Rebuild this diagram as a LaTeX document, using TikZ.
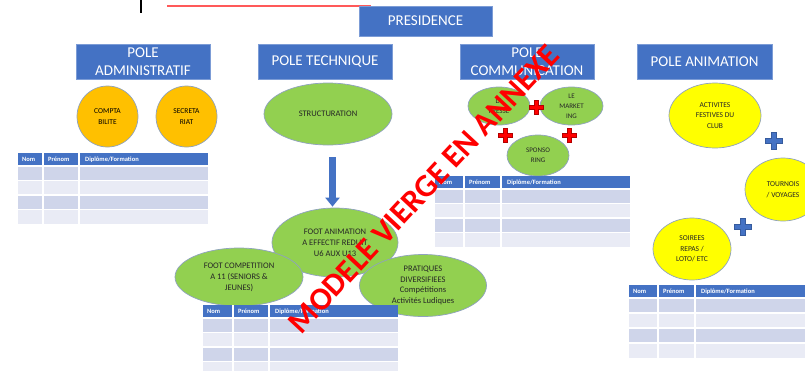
\documentclass[tikz,border=0pt]{standalone}
\usepackage{fontspec}
\setmainfont{Carlito}
\usetikzlibrary{shapes.geometric,arrows.meta}
\definecolor{bleu}{HTML}{4472C4}
\definecolor{vert}{HTML}{92D050}
\definecolor{orange}{HTML}{FFC000}
\definecolor{jaune}{HTML}{FFFF00}
\definecolor{lignea}{HTML}{CFD5EA}
\definecolor{ligneb}{HTML}{E9EBF5}
\definecolor{bord}{HTML}{8FA2BE}
\tikzset{
  pole/.style={fill=bleu, draw=bleu!70!white, text=white, align=center, inner sep=0,
    minimum width=134, minimum height=35, font=\fontsize{15}{17.5}\selectfont},
  bulle/.style={ellipse, draw=bord, line width=0.7, align=center, inner sep=0, text=black!85},
  rond/.style={circle, fill=orange, draw=bord, line width=0.7, align=center, inner sep=0,
    minimum size=61, font=\fontsize{7.5}{11}\selectfont},
  titrecol/.style={anchor=west, text=white, inner sep=0, font=\bfseries\fontsize{6.5}{7}\selectfont},
  sep/.style={white, line width=1.2},
  fleche/.style={bleu, line width=7, -{Triangle[width=14pt,length=9pt]}},
  croix/.pic={\path[pic actions] (-2,-7) -- (2,-7) -- (2,-2) -- (7,-2) -- (7,2) -- (2,2)
    -- (2,7) -- (-2,7) -- (-2,2) -- (-7,2) -- (-7,-2) -- (-2,-2) -- cycle;},
}
% tableau vierge : nom, gauche, haut, col1, col2, droite, hauteur de ligne
\newcommand{\grille}[7]{%
  \fill[bleu] (#2,#3) rectangle (#6,#3+13);
  \foreach \i in {0,2} \fill[lignea] (#2,#3+13+\i*#7) rectangle (#6,#3+13+\i*#7+#7);
  \foreach \i in {1,3} \fill[ligneb] (#2,#3+13+\i*#7) rectangle (#6,#3+13+\i*#7+#7);
  \foreach \i in {0,...,3} \draw[sep] (#2,#3+13+\i*#7) -- (#6,#3+13+\i*#7);
  \draw[sep] (#4,#3) -- (#4,#3+13+4*#7);
  \draw[sep] (#5,#3) -- (#5,#3+13+4*#7);
  \node[titrecol] (#1-nom) at (#2+4,#3+6.5) {Nom};
  \node[titrecol] (#1-prenom) at (#4+5,#3+6.5) {Prénom};
  \node[titrecol] (#1-diplome) at (#5+6,#3+6.5) {Diplôme/Formation};
}

\begin{document}
\begin{tikzpicture}[x=1pt, y=-1pt]
  \useasboundingbox (0,0) rectangle (805,370);
  \clip (0,0) rectangle (805,370);

  % restes en haut de page
  \draw[black, line width=2.2] (141,0) -- (141,13);
  \draw[red!65, line width=1.1] (167,6) -- (371,6);

  % poles
  \node[pole, minimum width=133, minimum height=30] (presidence) at (425.5,21) {PRESIDENCE};
  \node[pole] (admin) at (143,61.5) {POLE\\ADMINISTRATIF};
  \node[pole] (technique) at (325,61.5) {POLE TECHNIQUE};
  \node[pole] (comm) at (527,61.5) {POLE\\COMMUNICATION};
  \node[pole, minimum width=135] (anim) at (704.5,61.5) {POLE ANIMATION};

  % pole administratif
  \node[rond] (compta) at (107.5,116.5) {COMPTA\\BILITE};
  \node[rond] (secretariat) at (186.5,116.5) {SECRETA\\RIAT};
  \grille{tabadmin}{18}{153}{43}{79}{208}{14.5}

  % pole technique
  \node[bulle, fill=vert, minimum width=128, minimum height=62,
    font=\fontsize{8.5}{9}\selectfont] (struct) at (328,114) {STRUCTURATION};
  \node[bulle, fill=vert, minimum width=126, minimum height=69,
    font=\fontsize{8.5}{11}\selectfont] (footanim) at (335,242.5)
    {FOOT ANIMATION\\A EFFECTIF REDUIT\\U6 AUX U13};
  \node[bulle, fill=vert, minimum width=128, minimum height=58,
    font=\fontsize{8.5}{11}\selectfont] (footcompet) at (239,277)
    {FOOT COMPETITION\\A 11 (SENIORS \&\\JEUNES)};
  \node[bulle, fill=vert, minimum width=127, minimum height=62,
    font=\fontsize{8.5}{10.5}\selectfont] (pratiques) at (423,285.5)
    {PRATIQUES\\DIVERSIFIEES\\Compétitions\\Activités Ludiques};
  \draw[fleche] ([xshift=4.5pt,yshift=-12pt]struct.south) -- ([xshift=-2.5pt,yshift=1pt]footanim.north);
  \grille{tabtech}{203}{305}{233}{269}{398}{14.5}

  % pole communication
  \node[bulle, fill=vert, minimum width=62, minimum height=38,
    font=\fontsize{7}{10}\selectfont] (presse) at (499,106) {LA\\PRESSE};
  \node[bulle, fill=vert, minimum width=63, minimum height=38,
    font=\fontsize{7}{10}\selectfont] (marketing) at (571.5,106) {LE\\MARKET\\ING};
  \node[bulle, fill=vert, minimum width=62, minimum height=41,
    font=\fontsize{7}{10}\selectfont] (sponsoring) at (538,155.5) {SPONSO\\RING};
  \pic[fill=red, draw=red!70!black, line width=0.5] at (536,107) {croix};
  \pic[fill=red, draw=red!70!black, line width=0.5] at (505,135) {croix};
  \pic[fill=red, draw=red!70!black, line width=0.5] at (569.5,135) {croix};
  \grille{tabcomm}{435}{176}{464}{501}{630}{14.5}

  % pole animation
  \node[bulle, fill=jaune, minimum width=92, minimum height=65,
    font=\fontsize{7.5}{10.5}\selectfont] (festives) at (715,115.5)
    {ACTIVITES\\FESTIVES DU\\CLUB};
  \node[bulle, fill=jaune, minimum width=76, minimum height=63,
    font=\fontsize{7.5}{10.5}\selectfont] (tournois) at (783,189.5)
    {TOURNOIS\\/ VOYAGES};
  \node[bulle, fill=jaune, minimum width=78, minimum height=62,
    font=\fontsize{7.5}{10.5}\selectfont] (soirees) at (692,249)
    {SOIREES\\REPAS /\\LOTO/ ETC};
  \pic[fill=bleu, draw=bleu!80!black, line width=0.5, scale=1.2] at (774,141) {croix};
  \pic[fill=bleu, draw=bleu!80!black, line width=0.5, scale=1.2] at (743,227) {croix};
  \grille{tabanim}{629}{285}{658}{695}{830}{15}

  % filigrane
  \node[text=red, rotate=47, inner sep=0, font=\bfseries\fontsize{32}{32}\selectfont]
    (filigrane) at (424,189) {MODELE VIERGE EN ANNEXE};
\end{tikzpicture}
\end{document}
